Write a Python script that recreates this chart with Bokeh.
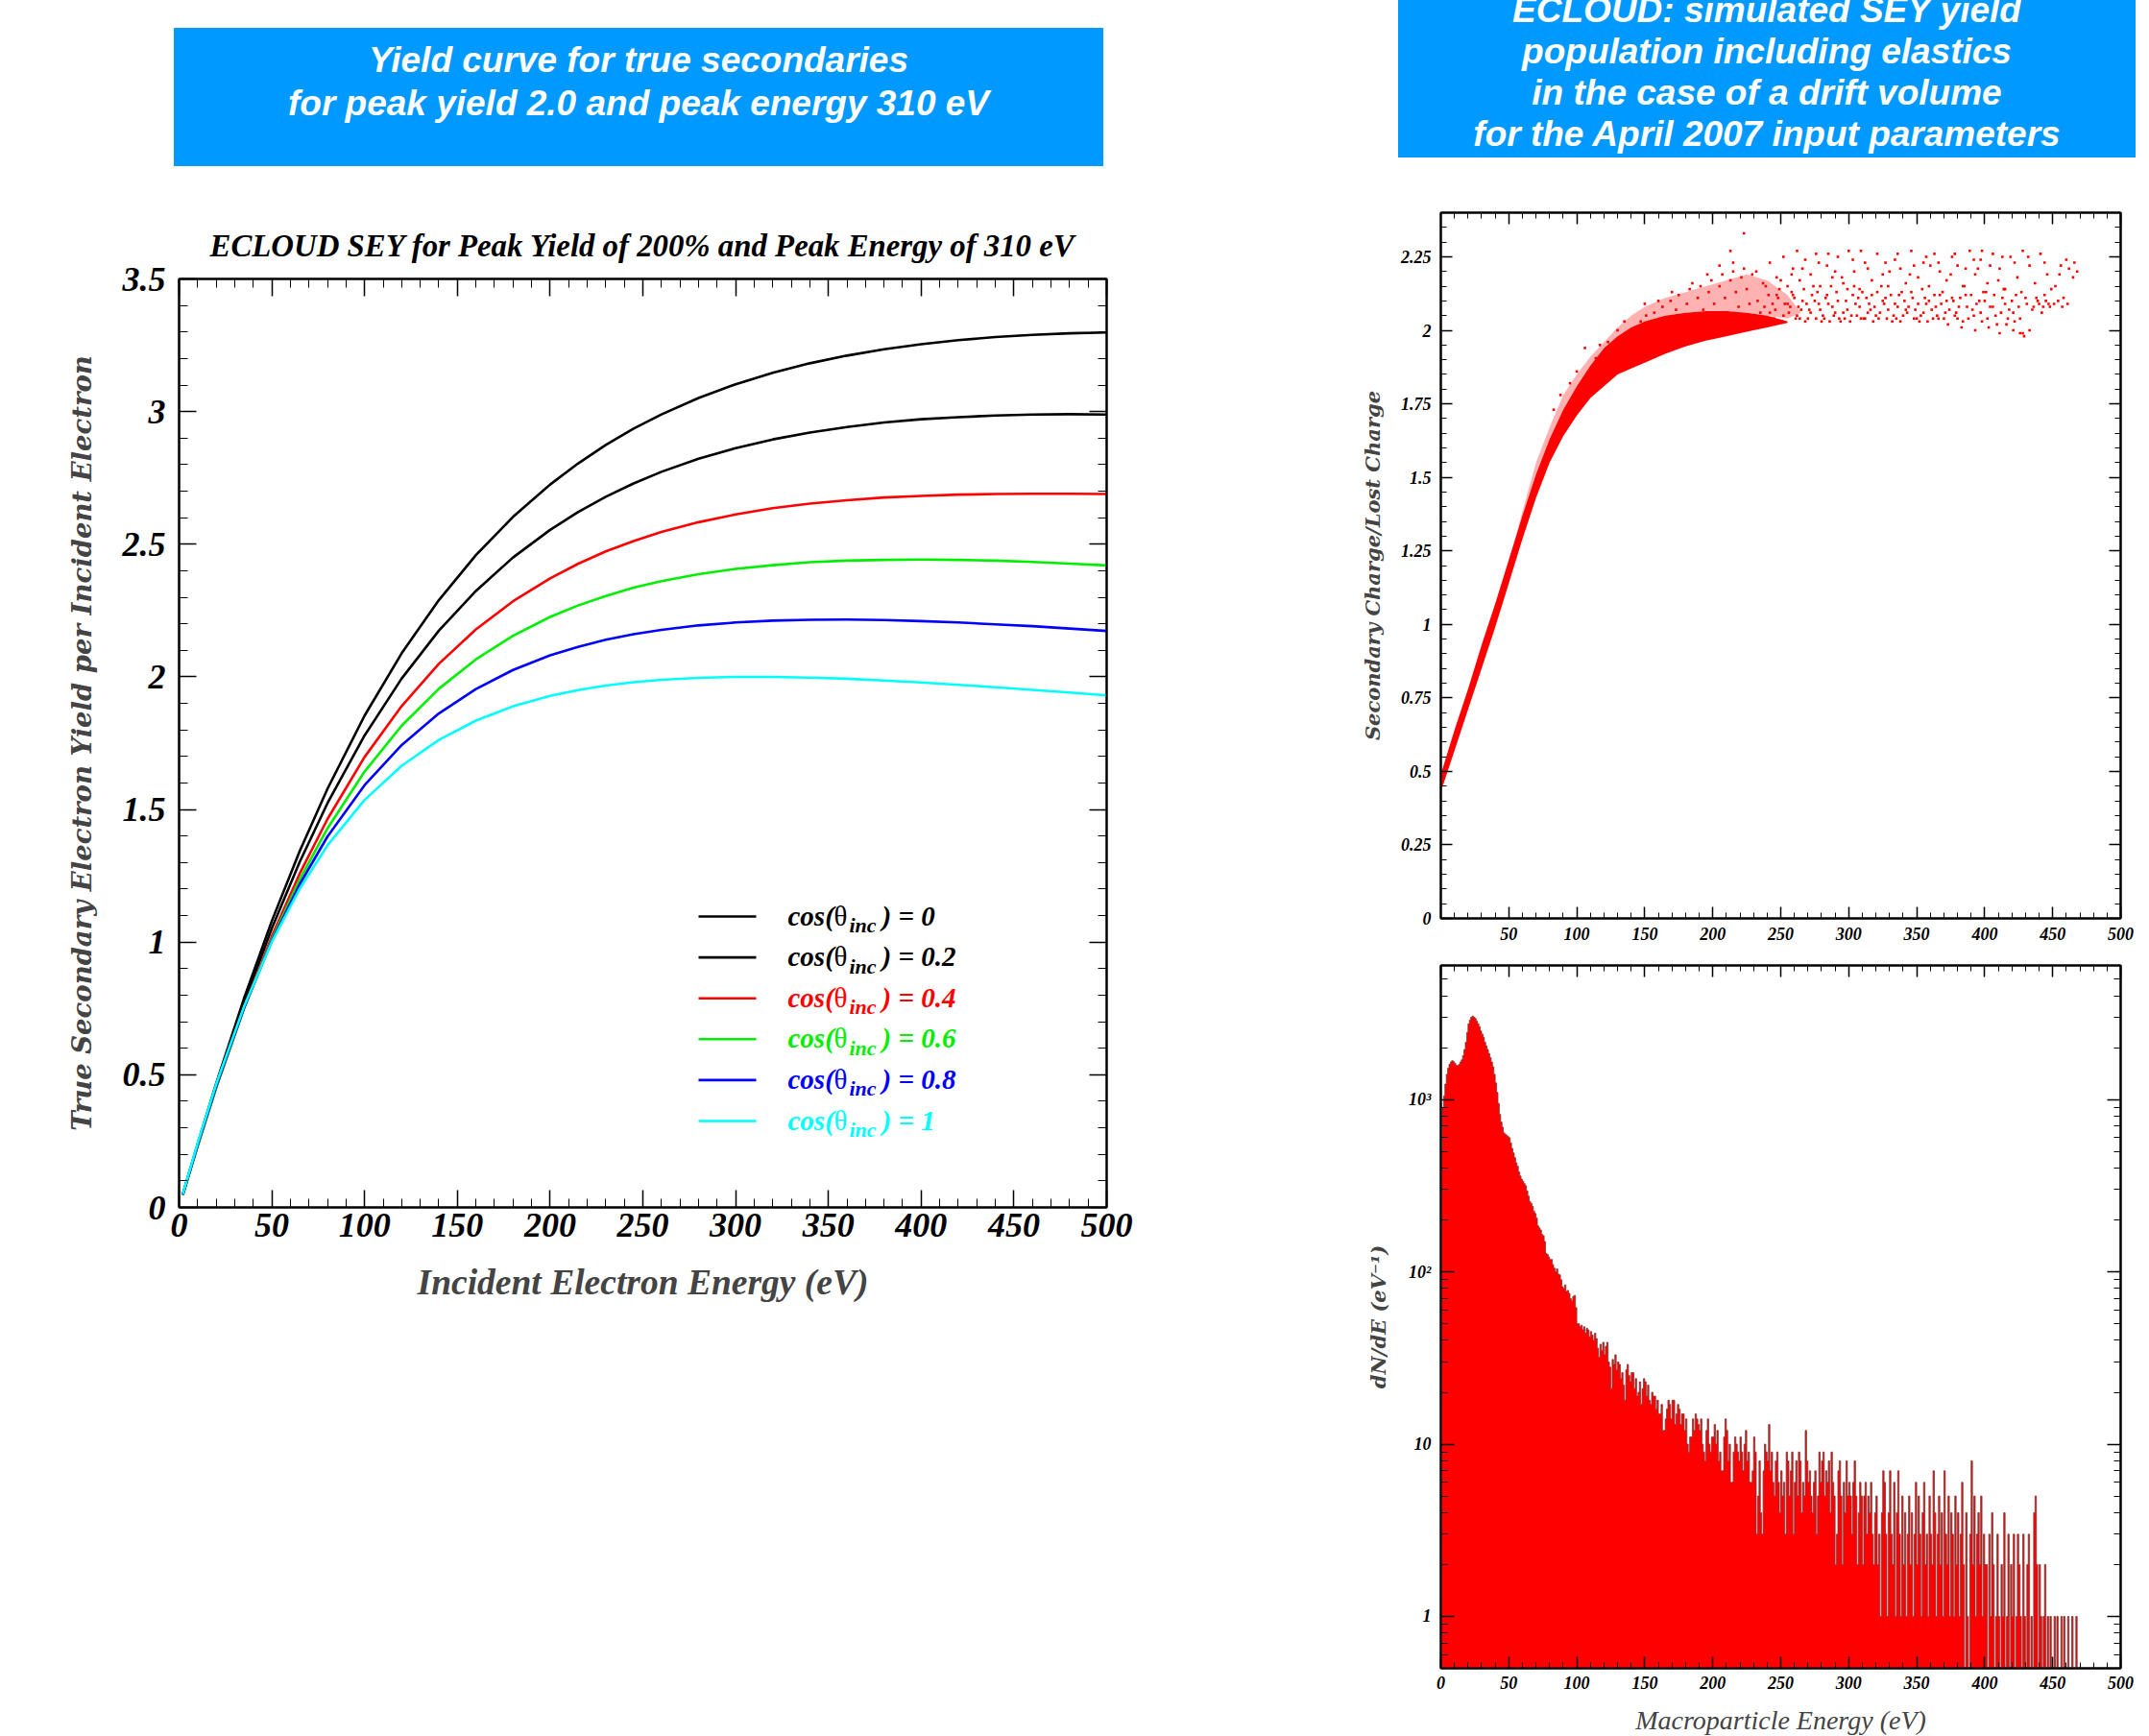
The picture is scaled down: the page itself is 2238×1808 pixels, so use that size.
import numpy as np
from bokeh.plotting import figure
from bokeh.models import (Range1d, LinearAxis, LogAxis, FixedTicker, Div, Spacer, Label,
                          CustomJSTickFormatter)
from bokeh.layouts import row, column
from bokeh.embed import file_html
from bokeh.resources import INLINE

# ============================================================ data
box_left_lines = ["Yield curve for true secondaries",
                  "for peak yield 2.0 and peak energy 310 eV"]
box_right_lines = ["ECLOUD: simulated SEY yield",
                   "population including elastics",
                   "in the case of a drift volume",
                   "for the April 2007 input parameters"]

# ---- left panel: true-secondary yield curves
sey_title = "ECLOUD SEY for Peak Yield of 200% and Peak Energy of 310 eV"
sey_xlabel = "Incident Electron Energy (eV)"
sey_ylabel = "True Secondary Electron Yield per Incident Electron"
sey_energy = [2, 10, 20, 35, 50, 65, 80, 100, 120, 140, 160, 180, 200, 215, 230, 245, 260, 280, 300,
              320, 340, 360, 380, 400, 420, 440, 460, 480, 500]
sey_cos_00 = [0.049, 0.239, 0.467, 0.788, 1.080, 1.343, 1.578, 1.854, 2.089, 2.289, 2.459, 2.603, 2.725,
              2.804, 2.874, 2.936, 2.989, 3.051, 3.103, 3.146, 3.182, 3.211, 3.235, 3.254, 3.269, 3.281,
              3.289, 3.295, 3.298]
sey_cos_02 = [0.048, 0.235, 0.459, 0.771, 1.052, 1.302, 1.524, 1.779, 1.994, 2.174, 2.324, 2.450, 2.554,
              2.621, 2.679, 2.729, 2.773, 2.822, 2.862, 2.895, 2.921, 2.942, 2.959, 2.971, 2.979, 2.985,
              2.989, 2.990, 2.989]
sey_cos_04 = [0.047, 0.231, 0.451, 0.753, 1.022, 1.258, 1.464, 1.698, 1.890, 2.049, 2.179, 2.285, 2.371,
              2.426, 2.473, 2.512, 2.546, 2.583, 2.612, 2.636, 2.653, 2.666, 2.676, 2.682, 2.687, 2.689,
              2.690, 2.690, 2.689]
sey_cos_06 = [0.047, 0.233, 0.452, 0.750, 1.011, 1.236, 1.429, 1.643, 1.816, 1.955, 2.066, 2.155, 2.226,
              2.269, 2.305, 2.336, 2.361, 2.387, 2.407, 2.421, 2.432, 2.438, 2.441, 2.442, 2.441, 2.438,
              2.433, 2.427, 2.420]
sey_cos_08 = [0.048, 0.236, 0.457, 0.752, 1.005, 1.218, 1.398, 1.592, 1.743, 1.862, 1.954, 2.026, 2.081,
              2.113, 2.140, 2.161, 2.177, 2.194, 2.205, 2.212, 2.215, 2.216, 2.214, 2.210, 2.205, 2.198,
              2.191, 2.182, 2.173]
sey_cos_10 = [0.050, 0.242, 0.465, 0.757, 1.001, 1.201, 1.365, 1.536, 1.665, 1.762, 1.835, 1.889, 1.928,
              1.950, 1.967, 1.980, 1.989, 1.996, 2.000, 2.000, 1.997, 1.993, 1.986, 1.979, 1.970, 1.961,
              1.951, 1.941, 1.930]
sey_cos_labels = ["0", "0.2", "0.4", "0.6", "0.8", "1"]
sey_x_ticks = [0, 50, 100, 150, 200, 250, 300, 350, 400, 450, 500]
sey_x_tick_labels = ["0", "50", "100", "150", "200", "250", "300", "350", "400", "450", "500"]
sey_y_ticks = [0, 0.5, 1, 1.5, 2, 2.5, 3, 3.5]
sey_y_tick_labels = ["0", "0.5", "1", "1.5", "2", "2.5", "3", "3.5"]

# ---- right top: simulated yield population (scatter)
sc_ylabel = "Secondary Charge/Lost Charge"
sc_band_energy = [0, 10, 20, 30, 40, 50, 60, 70, 80, 90, 100, 110, 120, 130, 140, 150, 165, 180, 195,
                  210, 225, 240, 255]
sc_band_low = [0.43, 0.57, 0.71, 0.85, 0.99, 1.14, 1.29, 1.43, 1.55, 1.64, 1.71, 1.77, 1.81, 1.85, 1.87,
               1.89, 1.92, 1.945, 1.965, 1.98, 1.995, 2.01, 2.025]
sc_band_high = [0.49, 0.64, 0.78, 0.93, 1.07, 1.22, 1.37, 1.51, 1.63, 1.73, 1.81, 1.88, 1.94, 1.98, 2.01,
                2.03, 2.05, 2.06, 2.065, 2.065, 2.06, 2.05, 2.03]
sc_spread_energy = [55, 70, 80, 90, 100, 110, 120, 130, 140, 150, 165, 180, 195, 210, 225, 240, 255, 265]
sc_spread_low = [1.30, 1.51, 1.63, 1.73, 1.81, 1.88, 1.94, 1.98, 2.01, 2.03, 2.05, 2.06, 2.065, 2.065,
                 2.06, 2.05, 2.04, 2.06]
sc_spread_high = [1.30, 1.55, 1.67, 1.78, 1.85, 1.91, 1.96, 2.01, 2.05, 2.08, 2.11, 2.13, 2.15, 2.17,
                  2.19, 2.17, 2.12, 2.06]
sc_points = [
    (141, 1.98), (143, 2.01), (145, 1.93), (147, 2.03), (149, 1.96), (151, 2.05), (153, 1.99), (155, 1.94),
    (157, 2.06), (159, 2.02), (161, 1.97), (163, 2.08), (165, 2.04), (167, 1.99), (169, 2.10), (171, 1.96),
    (173, 2.07), (175, 2.12), (177, 2.02), (179, 1.98), (181, 2.09), (183, 2.14), (185, 2.05), (187, 2.00),
    (189, 2.11), (191, 2.15), (193, 2.07), (195, 2.02), (197, 2.13), (199, 2.17), (201, 2.09), (203, 2.04),
    (205, 2.15), (207, 2.19), (209, 2.11), (211, 2.06), (213, 2.17), (215, 2.20), (217, 2.13), (219, 2.08),
    (221, 2.18), (223, 2.21), (225, 2.14), (227, 2.09), (229, 2.19), (213, 2.27), (223, 2.33), (150, 2.09),
    (185, 2.16), (196, 2.19), (170, 2.13), (160, 2.10), (205, 2.22), (215, 2.23), (178, 1.97), (188, 2.01),
    (198, 2.04), (208, 1.99), (218, 2.03), (228, 2.02),
    (231, 2.05), (233, 2.10), (236, 2.03), (238, 2.08), (241, 2.12), (243, 2.04), (246, 2.07), (248, 2.11),
    (251, 2.03), (253, 2.09), (256, 2.06), (258, 2.13), (261, 2.04), (263, 2.08), (266, 2.10), (268, 2.03),
    (271, 2.07), (273, 2.12), (276, 2.04), (278, 2.09), (281, 2.05), (283, 2.11), (286, 2.03), (288, 2.08),
    (291, 2.13), (293, 2.04), (296, 2.06), (298, 2.10), (301, 2.03), (303, 2.12), (306, 2.05), (308, 2.08),
    (311, 2.04), (313, 2.11), (316, 2.07), (318, 2.03), (321, 2.13), (323, 2.06), (326, 2.09), (328, 2.04),
    (331, 2.12), (333, 2.05), (336, 2.08), (338, 2.03), (341, 2.10), (343, 2.06), (346, 2.13), (348, 2.04),
    (351, 2.09), (353, 2.05), (356, 2.11), (358, 2.03), (361, 2.07), (363, 2.12), (366, 2.04), (368, 2.09),
    (371, 2.06), (373, 2.02), (376, 2.11), (378, 2.05), (381, 2.08), (383, 2.01), (386, 2.12), (388, 2.04),
    (391, 2.07), (393, 2.00), (396, 2.10), (398, 2.03), (401, 2.13), (403, 2.01), (406, 2.08), (408, 2.05),
    (411, 1.99), (413, 2.11), (416, 2.02), (418, 2.07), (421, 2.00), (423, 2.12), (426, 2.04), (428, 1.99),
    (235, 2.06), (245, 2.04), (255, 2.09), (262, 2.05), (270, 2.04), (275, 2.10), (282, 2.04), (290, 2.06),
    (297, 2.04), (305, 2.09), (312, 2.04), (320, 2.05), (327, 2.11), (335, 2.04), (342, 2.07), (350, 2.04),
    (357, 2.09), (365, 2.05), (372, 2.10), (380, 2.04), (239, 2.15), (249, 2.14), (259, 2.12), (267, 2.14),
    (277, 2.13), (287, 2.15), (299, 2.14), (310, 2.13), (324, 2.15), (339, 2.13), (354, 2.14), (369, 2.13),
    (385, 2.15), (399, 2.13), (414, 2.14), (427, 2.13), (244, 2.09), (265, 2.07), (285, 2.09), (315, 2.09),
    (232, 2.20), (237, 2.16), (242, 2.23), (247, 2.18), (252, 2.25), (255, 2.15), (259, 2.21), (264, 2.17),
    (268, 2.24), (272, 2.19), (276, 2.26), (279, 2.15), (284, 2.22), (288, 2.18), (292, 2.25), (296, 2.16),
    (300, 2.27), (304, 2.20), (308, 2.14), (312, 2.23), (317, 2.17), (321, 2.26), (325, 2.19), (329, 2.15),
    (334, 2.24), (338, 2.21), (342, 2.16), (346, 2.27), (351, 2.18), (355, 2.23), (359, 2.15), (363, 2.26),
    (367, 2.20), (372, 2.17), (376, 2.25), (380, 2.22), (384, 2.15), (389, 2.27), (393, 2.19), (397, 2.24),
    (402, 2.16), (406, 2.26), (411, 2.21), (415, 2.14), (419, 2.25), (424, 2.18), (428, 2.27), (433, 2.22),
    (437, 2.16), (441, 2.26), (446, 2.19), (449, 2.14), (456, 2.22), (460, 2.24), (465, 2.18), (468, 2.20),
    (309, 2.27), (285, 2.26), (262, 2.27), (398, 2.27),
    (431, 2.09), (433, 2.00), (436, 2.08), (438, 2.11), (440, 2.09), (443, 2.08), (445, 2.10), (447, 2.09),
    (444, 2.12), (429, 1.98), (426, 1.99), (421, 2.06), (452, 2.15), (458, 2.11),
    (83, 1.73), (95, 1.82), (106, 1.94), (114, 1.905), (123, 1.96), (88, 1.78), (100, 1.86), (117, 1.95),
    (130, 2.00), (135, 2.03),
    (242, 2.06), (247, 2.12), (252, 2.05), (257, 2.08), (260, 2.11), (264, 2.04), (269, 2.09), (272, 2.06),
    (274, 2.15), (279, 2.07), (280, 2.03), (284, 2.12), (289, 2.05), (292, 2.10), (294, 2.03), (295, 2.18),
    (299, 2.07), (302, 2.05), (304, 2.15), (307, 2.11), (309, 2.04), (314, 2.06), (317, 2.12), (319, 2.08),
    (322, 2.04), (325, 2.10), (329, 2.07), (330, 2.20), (332, 2.03), (334, 2.09), (337, 2.12), (340, 2.05),
    (344, 2.08), (345, 2.19), (347, 2.11), (349, 2.07), (352, 2.03), (355, 2.06), (359, 2.10), (360, 2.22),
    (362, 2.04), (364, 2.08), (367, 2.12), (370, 2.04), (374, 2.07), (375, 2.19), (377, 2.10), (379, 2.06),
    (382, 2.11), (384, 2.03), (387, 2.08), (390, 2.12), (392, 2.05), (394, 2.09), (395, 2.21), (397, 2.06),
    (400, 2.10), (402, 2.04), (404, 2.08), (407, 2.12), (409, 2.02), (410, 2.17), (412, 2.06), (415, 2.09),
    (417, 2.04), (420, 2.10), (422, 2.03), (425, 2.08), (430, 2.11), (435, 2.07), (439, 2.10), (442, 2.06),
    (448, 2.08), (250, 2.17), (258, 2.19), (266, 2.21), (278, 2.23), (290, 2.20), (303, 2.24), (314, 2.21),
    (327, 2.23), (336, 2.26), (348, 2.22), (357, 2.25), (366, 2.23), (378, 2.26), (386, 2.21), (392, 2.24),
    (404, 2.22), (413, 2.25), (422, 2.23), (432, 2.25), (444, 2.23), (455, 2.19), (462, 2.21), (466, 2.23),
    (451, 2.09), (454, 2.10), (457, 2.08), (461, 2.09),
]
sc_x_ticks = [50, 100, 150, 200, 250, 300, 350, 400, 450, 500]
sc_x_tick_labels = ["50", "100", "150", "200", "250", "300", "350", "400", "450", "500"]
sc_y_ticks = [0, 0.25, 0.5, 0.75, 1, 1.25, 1.5, 1.75, 2, 2.25]
sc_y_tick_labels = ["0", "0.25", "0.5", "0.75", "1", "1.25", "1.5", "1.75", "2", "2.25"]

# ---- right bottom: energy spectrum (histogram, 1 eV bins from 0 eV)
h_xlabel = "Macroparticle Energy (eV)"
h_ylabel = "dN/dE (eV\u207b\u00b9)"
h_counts = [
    500, 900, 1050, 1230, 1400, 1520, 1600, 1650, 1680, 1660,
    1620, 1580, 1570, 1600, 1650, 1700, 1800, 1950, 2150, 2450,
    2750, 2900, 3000, 3050, 3000, 2950, 2850, 2750, 2650, 2500,
    2400, 2300, 2150, 2050, 1950, 1850, 1750, 1650, 1550, 1400,
    1250, 1100, 950, 820, 740, 690, 640, 630, 620, 610,
    600, 560, 520, 490, 460, 430, 410, 380, 360, 345,
    335, 325, 316, 295, 275, 256, 250, 240, 225, 218,
    205, 185, 180, 175, 165, 162, 150, 128, 126, 122,
    118, 118, 110, 105, 100, 104, 97, 96, 90, 82,
    80, 84, 77, 78, 75, 70, 68, 72, 73, 62,
    50, 50, 48, 49, 46, 48, 44, 47, 46, 42,
    45, 43, 40, 44, 41, 36, 32, 38, 35, 39,
    33, 37, 39, 30, 28, 21, 31, 29, 33, 27,
    30, 29, 24, 26, 22, 18, 27, 29, 25, 23,
    26, 26, 21, 24, 19, 20, 23, 17, 21, 24,
    23, 19, 22, 18, 17, 20, 19, 19, 16, 18,
    15, 15, 17, 12, 12, 14, 16, 18, 17, 14,
    18, 18, 13, 15, 17, 16, 13, 15, 15, 12,
    14, 10, 9, 11, 11, 14, 12, 15, 14, 13,
    12, 14, 10, 9, 8, 12, 14, 10, 9, 11,
    11, 13, 10, 12, 8, 9, 7, 7, 11, 14,
    12, 8, 10, 6, 6, 9, 11, 10, 9, 8,
    11, 9, 7, 10, 12, 8, 9, 6, 6, 7,
    11, 9, 3, 5, 8, 4, 3, 7, 10, 9,
    8, 13, 7, 9, 6, 5, 8, 9, 6, 4,
    7, 5, 6, 3, 9, 8, 5, 7, 9, 3,
    6, 8, 5, 9, 8, 4, 6, 5, 12, 8,
    6, 7, 5, 4, 6, 7, 3, 5, 9, 6,
    8, 9, 5, 7, 6, 8, 4, 9, 6, 5,
    2, 3, 7, 8, 5, 2, 6, 4, 8, 5,
    6, 5, 3, 6, 8, 5, 2, 4, 6, 5,
    2, 5, 6, 3, 5, 4, 6, 3, 2, 4,
    5, 2, 3, 1, 4, 7, 6, 3, 1, 4,
    7, 3, 2, 6, 1, 4, 7, 3, 1, 5,
    2, 4, 1, 3, 5, 2, 4, 1, 3, 6,
    2, 5, 3, 1, 4, 6, 2, 3, 1, 5,
    3, 2, 7, 4, 1, 3, 5, 2, 4, 1,
    7, 3, 2, 5, 1, 4, 3, 1, 5, 2,
    4, 1, 3, 6, 2, 0, 4, 1, 0, 3,
    8, 2, 5, 1, 3, 4, 2, 5, 1, 3,
    2, 2, 0, 3, 1, 4, 2, 0, 1, 3,
    1, 0, 2, 1, 4, 0, 1, 3, 0, 2,
    1, 3, 0, 1, 3, 2, 1, 0, 3, 1,
    0, 2, 3, 0, 1, 0, 4, 5, 2, 0,
    2, 1, 0, 1, 2, 0, 1, 0, 1, 0,
    0, 1, 0, 1, 0, 0, 1, 0, 1, 0,
    0, 1, 0, 0, 1, 0, 0, 1, 0, 0,
]
h_x_ticks = [0, 50, 100, 150, 200, 250, 300, 350, 400, 450, 500]
h_x_tick_labels = ["0", "50", "100", "150", "200", "250", "300", "350", "400", "450", "500"]
h_y_ticks = [1, 10, 100, 1000]
h_y_tick_labels = ["1", "10", "10\u00b2", "10\u00b3"]

# ============================================================ styles
SERIF = "Liberation Serif"
WIDE = "DejaVu Serif"
BOX_BLUE = "#0099ff"
CURVE_COLORS = ["#000000", "#000000", "#ff0000", "#00ee00", "#0000ff", "#00ffff"]


def label_formatter(vals, labs):
    return CustomJSTickFormatter(args=dict(vals=vals, labs=labs), code="""
        for (let i = 0; i < vals.length; i++) {
            if (Math.abs(vals[i] - tick) <= 1e-9 * Math.max(1, Math.abs(tick))) return labs[i];
        }
        return "";
    """)


def style_axis(ax, ticks, minor, fmt, size, major_len, minor_len, show=True, standoff=8):
    ax.ticker = FixedTicker(ticks=ticks, minor_ticks=minor)
    if fmt is not None:
        ax.formatter = fmt
    ax.major_tick_in = major_len
    ax.major_tick_out = 0
    ax.minor_tick_in = minor_len
    ax.minor_tick_out = 0
    ax.major_tick_line_color = "black"
    ax.minor_tick_line_color = "black"
    ax.major_tick_line_width = 1.5
    ax.minor_tick_line_width = 1
    ax.axis_line_color = "black"
    ax.axis_line_width = 2
    ax.major_label_text_font = SERIF
    ax.major_label_text_font_style = "bold italic"
    if show:
        ax.major_label_standoff = standoff
        ax.major_label_text_font_size = size
        ax.major_label_text_color = "black"
    else:
        ax.major_label_standoff = 0
        ax.major_label_text_font_size = "1px"
        ax.major_label_text_color = None


def style_fig(p):
    p.grid.visible = False
    p.outline_line_color = "black"
    p.outline_line_width = 2
    p.background_fill_color = "white"
    p.border_fill_color = "white"


# ============================================================ left figure
p1 = figure(frame_width=966, frame_height=967, x_range=Range1d(0, 500), y_range=Range1d(0, 3.5),
            output_backend="svg", toolbar_location=None,
            min_border_left=178, min_border_right=248, min_border_top=117, min_border_bottom=120)
style_fig(p1)
p1.title.text = sey_title
p1.title.align = "center"
p1.title.text_font = SERIF
p1.title.text_font_style = "bold italic"
p1.title.text_font_size = "32.8px"
p1.title.text_color = "black"
p1.title.standoff = 33

x_minor = list(range(0, 501, 10))
y_minor = [round(0.1 * i, 2) for i in range(0, 36)]
style_axis(p1.below[0], sey_x_ticks, x_minor, label_formatter(sey_x_ticks, sey_x_tick_labels),
           "36px", 18, 9, standoff=6)
style_axis(p1.left[0], sey_y_ticks, y_minor, label_formatter(sey_y_ticks, sey_y_tick_labels),
           "36px", 18, 9, standoff=14)
p1.below[0].axis_label = sey_xlabel
p1.below[0].axis_label_text_font = SERIF
p1.below[0].axis_label_text_font_style = "bold italic"
p1.below[0].axis_label_text_font_size = "37.5px"
p1.below[0].axis_label_standoff = 24
p1.left[0].axis_label = sey_ylabel
p1.left[0].axis_label_text_font = WIDE
p1.left[0].axis_label_text_font_style = "bold italic"
p1.left[0].axis_label_text_font_size = "27.5px"
p1.left[0].axis_label_standoff = 24
top1 = LinearAxis()
style_axis(top1, sey_x_ticks, x_minor, None, "0px", 18, 9, show=False)
p1.add_layout(top1, "above")
right1 = LinearAxis()
style_axis(right1, sey_y_ticks, y_minor, None, "0px", 18, 9, show=False)
p1.add_layout(right1, "right")

series = [sey_cos_00, sey_cos_02, sey_cos_04, sey_cos_06, sey_cos_08, sey_cos_10]
for vals, col in zip(series, CURVE_COLORS):
    p1.line(sey_energy, vals, line_color=col, line_width=2.6, line_join="round")

# legend (positions in screen pixels converted to data units)
FX0, FW, FY0, FH = 186, 966, 1257, 967
def dx(px):
    return (px - FX0) / FW * 500
def dy(py):
    return (FY0 - py) / FH * 3.5

for i, (lab, col) in enumerate(zip(sey_cos_labels, CURVE_COLORS)):
    ry = 954 + 42.6 * i
    p1.segment(x0=[dx(727)], y0=[dy(ry)], x1=[dx(787)], y1=[dy(ry)], line_color=col, line_width=2.6)
    for txt, xp, yoff, size, style in [("cos(", 820, -1, "29px", "bold italic"),
                                        ("\u03b8", 868, -1, "29px", "normal"),
                                        ("inc", 884, 9, "22px", "bold italic"),
                                        (") = " + lab, 918, -1, "29px", "bold italic")]:
        p1.add_layout(Label(x=dx(xp), y=dy(ry + yoff), text=txt, text_font=SERIF, text_font_style=style,
                            text_font_size=size, text_color=col, text_baseline="alphabetic",
                            text_align="left"))

# ============================================================ right top (scatter)
p2 = figure(frame_width=708, frame_height=735, x_range=Range1d(0, 500), y_range=Range1d(0, 2.4),
            output_backend="svg", toolbar_location=None,
            min_border_left=100, min_border_right=22, min_border_top=57, min_border_bottom=34)
style_fig(p2)
sc_y_minor = [round(0.05 * i, 2) for i in range(0, 49)]
style_axis(p2.below[0], sc_x_ticks, x_minor, label_formatter(sc_x_ticks, sc_x_tick_labels),
           "18px", 12, 6, standoff=9)
style_axis(p2.left[0], sc_y_ticks, sc_y_minor, label_formatter(sc_y_ticks, sc_y_tick_labels),
           "18px", 12, 6, standoff=10)
p2.left[0].axis_label = sc_ylabel
p2.left[0].axis_label_text_font = WIDE
p2.left[0].axis_label_text_font_style = "bold italic"
p2.left[0].axis_label_text_font_size = "21px"
p2.left[0].axis_label_standoff = 14
top2 = LinearAxis()
style_axis(top2, sc_x_ticks, x_minor, None, "0px", 12, 6, show=False)
p2.add_layout(top2, "above")
right2 = LinearAxis()
style_axis(right2, sc_y_ticks, sc_y_minor, None, "0px", 12, 6, show=False)
p2.add_layout(right2, "right")

p2.varea(x=sc_spread_energy, y1=sc_spread_low, y2=sc_spread_high, fill_color="#ff0000", fill_alpha=0.3)
p2.varea(x=sc_band_energy, y1=sc_band_low, y2=sc_band_high, fill_color="#ff0000", fill_alpha=1.0)
p2.scatter([pt[0] for pt in sc_points], [pt[1] for pt in sc_points], marker="square", size=2.6,
           fill_color="#ff0000", line_color=None)

# ============================================================ right bottom (histogram)
p3 = figure(frame_width=708, frame_height=732, x_range=Range1d(0, 500), y_range=Range1d(0.5, 6000),
            y_axis_type="log", output_backend="svg", toolbar_location=None,
            min_border_left=100, min_border_right=22, min_border_top=15, min_border_bottom=68)
style_fig(p3)
h_y_minor = [m * 10 ** k for k in range(-1, 4) for m in range(2, 10) if 0.5 <= m * 10 ** k <= 6000]
style_axis(p3.below[0], h_x_ticks, x_minor, label_formatter(h_x_ticks, h_x_tick_labels),
           "18px", 12, 6, standoff=8)
style_axis(p3.left[0], h_y_ticks, h_y_minor, label_formatter(h_y_ticks, h_y_tick_labels),
           "18px", 14, 7, standoff=10)
p3.below[0].axis_label = h_xlabel
p3.below[0].axis_label_text_font = SERIF
p3.below[0].axis_label_text_font_style = "italic"
p3.below[0].axis_label_text_font_size = "28px"
p3.below[0].axis_label_standoff = 14
p3.left[0].axis_label = h_ylabel
p3.left[0].axis_label_text_font = WIDE
p3.left[0].axis_label_text_font_style = "bold italic"
p3.left[0].axis_label_text_font_size = "21px"
p3.left[0].axis_label_standoff = 16
top3 = LinearAxis()
style_axis(top3, h_x_ticks, x_minor, None, "0px", 12, 6, show=False)
p3.add_layout(top3, "above")
right3 = LogAxis()
style_axis(right3, h_y_ticks, h_y_minor, None, "0px", 14, 7, show=False)
p3.add_layout(right3, "right")

counts = np.array(h_counts, dtype=float)
edges = np.arange(len(counts) + 1, dtype=float)
step_y = np.append(np.where(counts > 0, counts, 0.5), 0.5)
p3.varea_step(x=edges, y1=np.full(len(edges), 0.5), y2=step_y, step_mode="after",
              fill_color="#ff0000")
p3.step(x=edges, y=step_y, mode="after", line_color="#7a3a3a", line_width=1, line_alpha=0.8)

# ============================================================ title boxes
box_css = ("background:{bg};color:#ffffff;font-family:'Liberation Sans',Arial,sans-serif;"
           "font-weight:bold;font-style:italic;font-size:37px;text-align:center;overflow:hidden;"
           "box-sizing:border-box;")
box_left = Div(text=('<div style="' + box_css.format(bg=BOX_BLUE) +
                     'width:968px;height:144px;line-height:45px;padding-top:11px;">' +
                     "<br>".join(box_left_lines) + "</div>"),
               width=968, height=144, margin=0)
box_right = Div(text=('<div style="' + box_css.format(bg=BOX_BLUE) +
                      'position:relative;top:-8px;width:768px;height:164px;line-height:43px;">'
                      '<div style="margin-top:-11px;">' + "<br>".join(box_right_lines) +
                      "</div></div>"),
                width=768, height=156, margin=0)

left_col = column(Spacer(width=1392, height=21),
                  row(Spacer(width=173, height=144), box_left),
                  p1)
right_col = column(row(Spacer(width=56, height=156), box_right), p2, p3)
layout = column(Spacer(width=2230, height=8),
                row(Spacer(width=8, height=10), left_col, right_col))

open("out.html", "w").write(file_html(layout, INLINE))
